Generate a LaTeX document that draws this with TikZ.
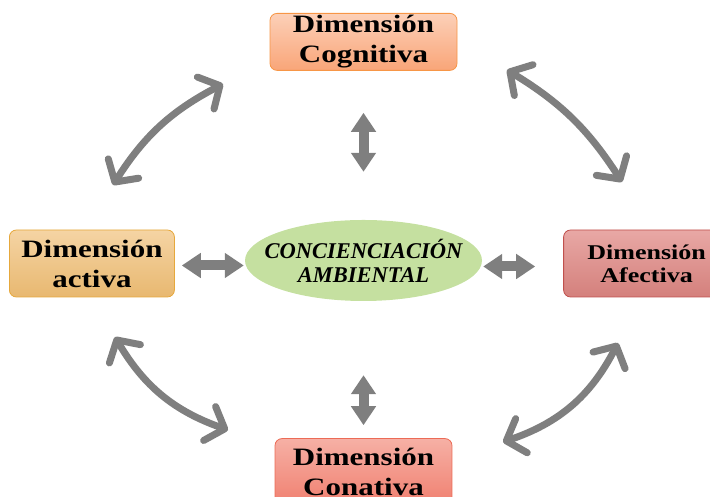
\documentclass[tikz,border=0pt]{standalone}
\usepackage{fontspec}
\setmainfont{Liberation Serif}
\newfontfamily\dimfont[FakeStretch=1.24]{Liberation Serif}
\usepackage{tikz}
\usetikzlibrary{positioning, calc, shapes.geometric, arrows.meta}
\definecolor{arrowgray}{HTML}{7F7F7F}
\tikzstyle{Swing} = [
    line width = 7pt,
    draw = arrowgray,
    {Straight Barb[length=16pt, width=36pt, round]}-{Straight Barb[length=16pt, width=36pt, round]}
]
\tikzstyle{Block} = [
    line width = 10pt,
    draw = arrowgray,
    {Triangle[length=19pt, width=24pt]}-{Triangle[length=19pt, width=24pt]}
]

\begin{document}
\begin{tikzpicture}[
x=1pt, y=1pt,
dim/.style={
    rectangle,
    rounded corners = 7pt,
    line width = 0.8pt,
    inner ysep = 0pt,
    align = center,
    font = \dimfont\bfseries\fontsize{25}{30}\selectfont
    },
core/.style={
    ellipse,
    fill = {rgb,255:red,197;green,224;blue,160},
    minimum width = 237pt,
    minimum height = 81pt,
    inner sep = 0pt
    },
corelabel/.style={
    align = center,
    font = \bfseries\itshape\fontsize{22.5}{24}\selectfont
    }
]
\useasboundingbox (0,0) rectangle (710,497);

\node [core, label={[corelabel]center:CONCIENCIACIÓN\\AMBIENTAL}] (amb) at (363.5,236.5) {};

\node [dim, above = 149pt of amb, minimum width = 187pt, minimum height = 57pt,
    draw = {rgb,255:red,247;green,150;blue,70},
    top color = {rgb,255:red,252;green,208;blue,184},
    bottom color = {rgb,255:red,249;green,165;blue,120}] (cog) {Dimensión\\Cognitiva};
\node [dim, left = 70pt of amb, yshift = -3pt, minimum width = 165pt, minimum height = 67pt,
    draw = {rgb,255:red,230;green,168;blue,60},
    top color = {rgb,255:red,245;green,212;blue,164},
    bottom color = {rgb,255:red,232;green,184;blue,112}] (act) {Dimensión\\activa};
\node [dim, right = 81pt of amb, yshift = -3pt, minimum width = 166pt, minimum height = 67pt,
    font = \dimfont\bfseries\fontsize{21}{23}\selectfont,
    draw = {rgb,255:red,192;green,80;blue,77},
    top color = {rgb,255:red,232;green,168;blue,165},
    bottom color = {rgb,255:red,212;green,128;blue,124}] (afe) {Dimensión\\Afectiva};
\node [dim, below = 137pt of amb, minimum width = 177pt, minimum height = 66pt,
    draw = {rgb,255:red,236;green,107;blue,86},
    top color = {rgb,255:red,246;green,176;blue,165},
    bottom color = {rgb,255:red,240;green,128;blue,112}] (con) {Dimensión\\Conativa};

% straight links to the centre
\draw[Block, shorten <= 48pt, shorten >= 42pt] (amb.north) -- (amb.north |- cog.south);
\draw[Block, shorten <= 74pt, shorten >= 13pt] (amb.south) -- (amb.south |- con.north);
\draw[Block, shorten <= 7pt, shorten >= 1pt] ([yshift=-2pt]act.east) -- ([yshift=-2pt]act.east -| amb.west);
\draw[Block, shorten <= 1pt, shorten >= 28pt] ([yshift=-6pt]amb.east) -- ([yshift=-6pt]amb.east -| afe.west);

% curved links around
\coordinate (actN) at (113,312);
\coordinate (cogW) at (223,413);
\coordinate (cogE) at (507,427);
\coordinate (afeN) at (622,315);
\coordinate (actS) at (115,160);
\coordinate (conW) at (228,67);
\coordinate (afeS) at (618,154);
\coordinate (conE) at (503,55);

\draw[Swing] (actN) to [bend left=15] (cogW);
\draw[Swing] (cogE) to [bend left=13] (afeN);
\draw[Swing] (actS) to [bend right=20] (conW);
\draw[Swing] (afeS) to [bend left=22] (conE);

\end{tikzpicture}
\end{document}
